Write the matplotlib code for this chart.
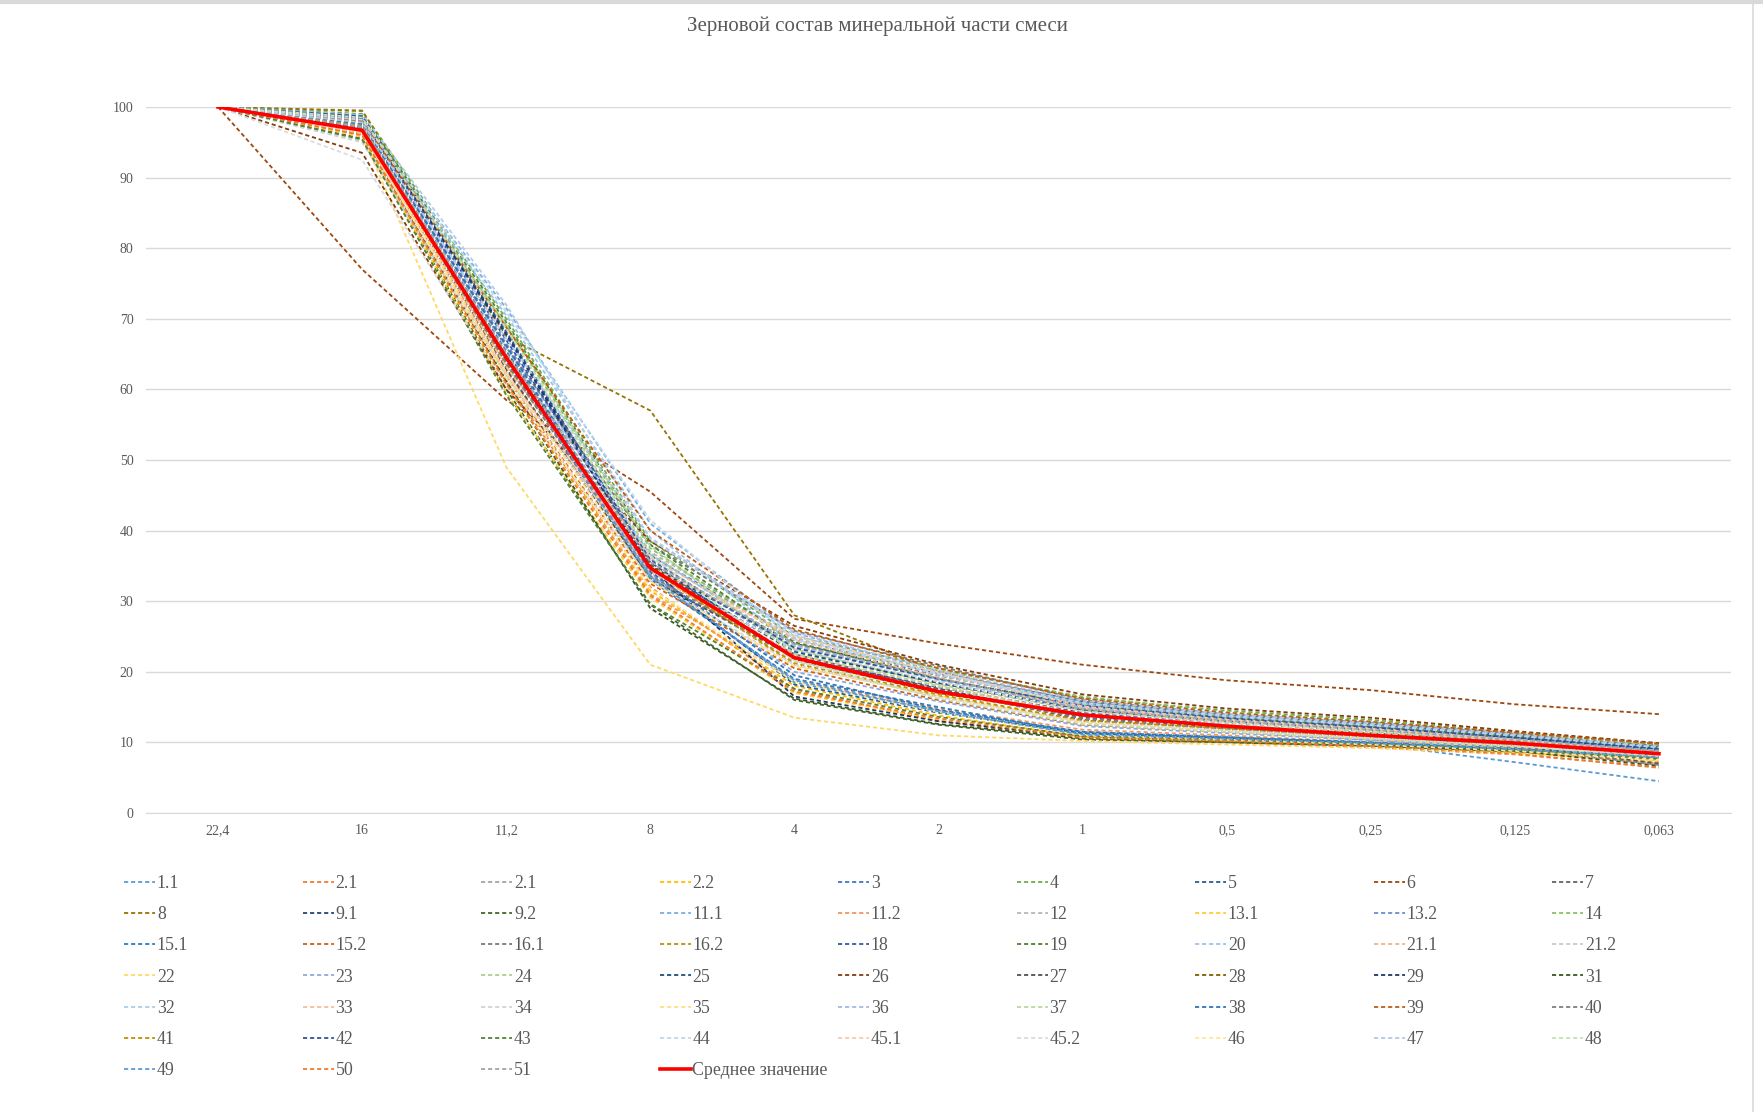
import numpy as np
import matplotlib.pyplot as plt
from matplotlib.lines import Line2D

plt.rcParams['font.family'] = ['Liberation Serif', 'DejaVu Serif']

# размеры сит, мм
sieve_sizes = ["22,4", "16", "11,2", "8", "4", "2", "1", "0,5", "0,25", "0,125", "0,063"]

series_names = ["1.1", "2.1", "2.1", "2.2", "3", "4", "5", "6", "7",
                "8", "9.1", "9.2", "11.1", "11.2", "12", "13.1", "13.2", "14",
                "15.1", "15.2", "16.1", "16.2", "18", "19", "20", "21.1", "21.2",
                "22", "23", "24", "25", "26", "27", "28", "29", "31",
                "32", "33", "34", "35", "36", "37", "38", "39", "40",
                "41", "42", "43", "44", "45.1", "45.2", "46", "47", "48",
                "49", "50", "51"]

series_colors = ["#5B9BD5", "#ED7D31", "#A5A5A5", "#FFC000", "#4472C4", "#70AD47",
                 "#255E91", "#9E480E", "#636363", "#997300", "#264478", "#43682B",
                 "#7CAFDD", "#F1975A", "#B7B7B7", "#FFCD33", "#698ED0", "#8CC168",
                 "#327DC2", "#D26012", "#7C7C7C", "#BF9000", "#335AA1", "#548235",
                 "#9DC3E6", "#F4B183", "#C9C9C9", "#FFD966", "#8FAADC", "#A9D18E",
                 "#1F4E79", "#843C0C", "#525252", "#7F6000", "#203864", "#385723",
                 "#ADCDEA", "#F6BE98", "#D2D2D2", "#FFDF80", "#A3BBE2", "#B7D9A1",
                 "#2E75B6", "#C55A11", "#7F7F7F", "#BF9000", "#2F5597", "#538135",
                 "#BDD7EE", "#F8CBAD", "#DBDBDB", "#FFE699", "#B4C7E7", "#C5E0B4",
                 "#5B9BD5", "#ED7D31", "#A5A5A5"]

# проход через сито, %
series_values = [
    [100, 97.8, 66.0, 33.5, 18.5, 14.5, 11.5, 10.8, 9.8, 7.2, 4.5],
    [100, 96.5, 61.0, 32.0, 17.5, 13.0, 10.5, 10.0, 9.3, 8.3, 6.5],
    [100, 97.2, 63.5, 35.5, 23.5, 19.0, 15.0, 13.3, 12.0, 10.6, 8.9],
    [100, 96.0, 60.5, 31.5, 18.0, 13.8, 10.8, 10.2, 9.6, 8.6, 7.2],
    [100, 98.3, 67.5, 36.5, 24.5, 19.8, 15.8, 13.9, 12.6, 11.0, 9.4],
    [100, 99.4, 70.0, 38.5, 25.0, 20.5, 16.3, 14.5, 13.2, 11.4, 9.7],
    [100, 97.5, 65.5, 34.0, 18.2, 14.2, 11.3, 10.6, 9.9, 8.9, 7.6],
    [100, 77.0, 58.5, 45.5, 27.5, 24.0, 21.0, 18.8, 17.4, 15.4, 14.0],
    [100, 96.8, 63.0, 33.0, 22.5, 17.5, 13.2, 11.8, 10.6, 9.4, 7.4],
    [100, 99.5, 67.5, 57.0, 28.0, 20.0, 15.8, 13.8, 12.5, 10.8, 9.2],
    [100, 98.5, 68.0, 35.0, 24.0, 19.5, 15.5, 13.6, 12.3, 10.9, 9.5],
    [100, 95.5, 60.0, 29.5, 16.0, 12.5, 10.4, 10.0, 9.5, 8.7, 7.7],
    [100, 98.0, 71.5, 41.0, 25.5, 20.0, 15.5, 13.7, 12.3, 10.8, 9.1],
    [100, 96.2, 62.0, 31.0, 18.8, 14.8, 11.8, 11.0, 10.0, 8.8, 7.0],
    [100, 97.0, 65.0, 37.0, 24.8, 19.5, 15.3, 13.4, 12.0, 10.5, 8.7],
    [100, 95.8, 59.5, 30.5, 17.0, 13.2, 10.6, 10.3, 9.7, 8.7, 7.8],
    [100, 97.7, 66.5, 36.0, 23.0, 18.5, 14.8, 13.1, 11.8, 10.4, 8.8],
    [100, 98.8, 69.0, 37.5, 24.0, 20.2, 16.5, 14.3, 13.0, 11.3, 9.6],
    [100, 97.3, 64.5, 33.0, 19.0, 15.0, 11.2, 10.7, 10.0, 9.0, 7.9],
    [100, 96.4, 61.5, 32.5, 20.5, 16.0, 12.5, 11.5, 10.4, 9.2, 7.5],
    [100, 97.9, 66.0, 38.0, 25.8, 20.8, 16.0, 14.0, 12.8, 11.2, 9.3],
    [100, 96.9, 63.5, 34.5, 21.0, 16.5, 13.0, 11.9, 10.8, 9.6, 8.2],
    [100, 98.2, 67.0, 35.5, 22.0, 17.8, 14.2, 12.8, 11.6, 10.2, 8.6],
    [100, 99.0, 69.5, 38.0, 24.2, 19.0, 15.2, 13.5, 12.2, 10.8, 9.0],
    [100, 97.6, 70.5, 40.0, 23.8, 18.8, 14.9, 13.2, 11.9, 10.5, 8.9],
    [100, 96.3, 62.5, 34.0, 22.5, 18.0, 14.0, 12.5, 11.2, 9.9, 8.1],
    [100, 95.2, 62.0, 33.5, 21.5, 17.2, 13.6, 12.2, 11.0, 9.7, 8.0],
    [100, 96.0, 49.0, 21.0, 13.5, 11.0, 10.2, 9.7, 9.2, 8.4, 7.4],
    [100, 97.4, 65.0, 33.8, 20.0, 15.8, 12.3, 11.3, 10.3, 9.2, 7.8],
    [100, 98.6, 68.5, 36.8, 23.2, 18.2, 14.5, 12.9, 11.7, 10.3, 8.7],
    [100, 97.1, 64.0, 35.0, 22.8, 18.4, 14.6, 13.0, 11.8, 10.6, 9.1],
    [100, 93.5, 60.0, 38.5, 26.5, 21.0, 16.8, 14.8, 13.5, 11.6, 9.9],
    [100, 96.6, 62.8, 33.2, 22.0, 17.6, 13.5, 12.0, 10.9, 9.5, 7.0],
    [100, 97.0, 64.2, 35.2, 21.8, 17.0, 13.8, 12.4, 11.3, 10.1, 8.5],
    [100, 98.4, 67.8, 34.8, 16.5, 13.0, 10.8, 10.3, 9.8, 9.0, 8.2],
    [100, 96.1, 61.2, 29.0, 16.2, 12.6, 10.6, 10.1, 9.6, 8.8, 6.7],
    [100, 98.9, 72.0, 38.8, 25.2, 19.6, 15.4, 13.6, 12.4, 10.9, 9.2],
    [100, 96.6, 63.2, 36.2, 24.5, 19.2, 14.8, 13.0, 11.7, 10.3, 8.6],
    [100, 95.0, 61.8, 34.2, 23.2, 18.6, 14.4, 12.8, 11.6, 10.2, 8.4],
    [100, 96.7, 62.4, 32.8, 20.8, 16.6, 12.8, 11.6, 10.5, 9.2, 7.6],
    [100, 97.5, 65.8, 36.6, 23.6, 18.9, 15.0, 13.3, 12.0, 10.6, 9.0],
    [100, 98.1, 69.2, 37.8, 22.6, 17.9, 13.9, 12.5, 11.3, 10.0, 8.6],
    [100, 97.6, 66.2, 34.2, 19.5, 14.6, 11.5, 10.7, 10.0, 9.1, 8.0],
    [100, 98.0, 68.8, 40.0, 26.0, 20.5, 16.2, 14.2, 12.9, 11.4, 9.8],
    [100, 96.9, 63.8, 33.6, 22.2, 17.4, 13.4, 11.9, 10.7, 9.3, 6.8],
    [100, 97.3, 64.8, 34.6, 21.2, 16.8, 13.1, 12.0, 10.9, 9.7, 8.3],
    [100, 98.7, 68.2, 35.8, 23.4, 19.0, 15.2, 13.4, 12.1, 10.7, 9.1],
    [100, 95.4, 59.2, 29.6, 17.6, 13.6, 10.9, 10.4, 9.8, 8.9, 7.7],
    [100, 98.2, 71.0, 41.5, 24.6, 19.8, 15.6, 13.8, 12.5, 11.0, 9.3],
    [100, 96.2, 62.2, 34.8, 25.0, 19.9, 15.1, 13.2, 11.9, 10.4, 8.5],
    [100, 92.5, 60.5, 33.0, 21.0, 16.4, 12.9, 11.7, 10.6, 9.5, 8.1],
    [100, 96.5, 61.6, 31.8, 18.6, 14.3, 11.0, 10.4, 9.7, 8.8, 7.5],
    [100, 97.8, 67.2, 39.0, 25.6, 20.2, 15.9, 14.0, 12.7, 11.1, 9.4],
    [100, 98.5, 68.6, 36.4, 21.6, 16.2, 12.6, 11.5, 10.5, 9.4, 8.0],
    [100, 97.0, 64.6, 33.4, 18.8, 14.4, 11.1, 10.5, 9.9, 9.0, 7.9],
    [100, 96.0, 60.8, 30.8, 17.2, 13.4, 10.7, 10.2, 9.5, 8.4, 6.4],
    [100, 97.2, 65.2, 35.6, 23.9, 19.1, 14.7, 13.1, 11.8, 10.3, 8.8],
]

mean_values = [100, 96.7, 64.5, 34.7, 22.0, 17.2, 13.9, 12.3, 11.0, 9.9, 8.4]

W, H = 1763, 1112
fig = plt.figure(figsize=(W / 100, H / 100), dpi=100)
ax = fig.add_axes([146 / W, 1 - 813 / H, (1731 - 146) / W, (813 - 107) / H])

x = np.arange(len(sieve_sizes))
handles = []
labels = []
for name, col, vals in zip(series_names, series_colors, series_values):
    h, = ax.plot(x, vals, color=col, lw=1.3, dashes=(2.3, 1.6))
    handles.append(h)
    labels.append(name)
hm, = ax.plot(x, mean_values, color='#FF0000', lw=2.6, solid_joinstyle='miter')
handles.append(hm)
labels.append('Среднее значение')

ax.set_xlim(-0.5, 10.5)
ax.set_ylim(0, 100)
ax.set_yticks(range(0, 101, 10))
ax.set_xticks(x, sieve_sizes)
ax.grid(axis='y', color='#D9D9D9', lw=1)
ax.set_axisbelow(True)
for s in ['top', 'right', 'left']:
    ax.spines[s].set_visible(False)
ax.spines['bottom'].set_color('#D9D9D9')
ax.tick_params(length=0, labelsize=10, colors='#595959')
ax.tick_params(axis='y', pad=9)
ax.tick_params(axis='x', pad=8)

fig.text(877 / W, 1 - 26 / H, 'Зерновой состав минеральной части смеси',
         ha='center', va='center', fontsize=15, color='#595959')

# легенда как в Excel: по строкам, 9 колонок с равным шагом
for c in range(9):
    idx = list(range(c, len(handles), 9))
    leg = fig.legend([handles[i] for i in idx], [labels[i] for i in idx],
                     loc='upper left', bbox_to_anchor=((124 + c * 178.5) / W, 1 - 875 / H),
                     frameon=False, fontsize=12.8, handlelength=1.75, handletextpad=0.1,
                     borderpad=0, borderaxespad=0, labelspacing=0.8, labelcolor='#595959')

# рамка скриншота
fig.add_artist(Line2D([0, 1], [1 - 2 / H, 1 - 2 / H], transform=fig.transFigure, color='#D9D9D9', lw=3))
fig.add_artist(Line2D([1753 / W, 1753 / W], [0, 1 - 2 / H], transform=fig.transFigure, color='#D9D9D9', lw=1.2))

fig.savefig('out.png', dpi=100, facecolor='white')
